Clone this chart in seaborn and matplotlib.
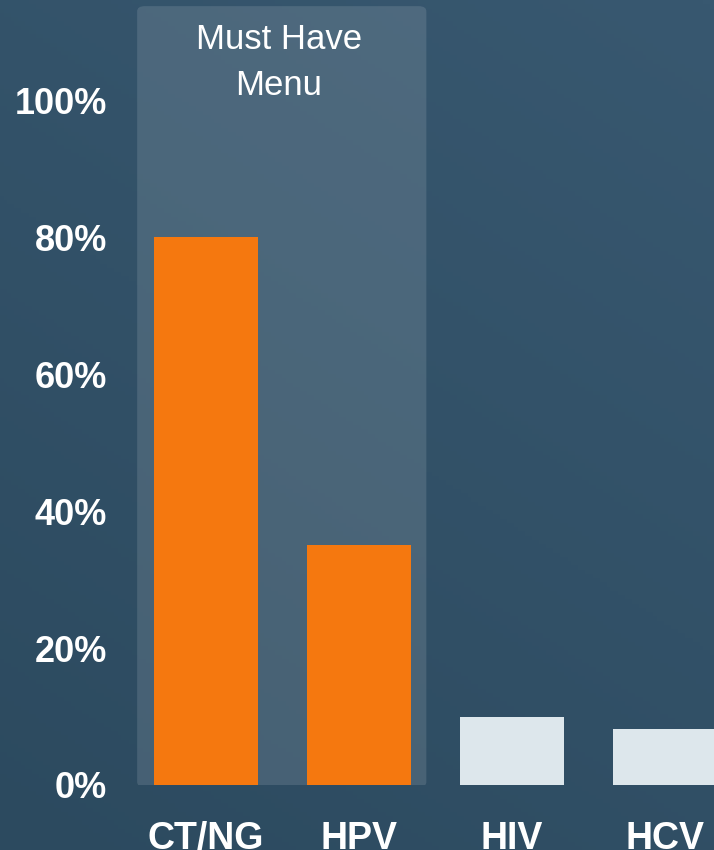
import numpy as np
import pandas as pd
import matplotlib
matplotlib.use('Agg')
import matplotlib.pyplot as plt
from matplotlib.patches import FancyBboxPatch
import seaborn as sns

# 데이터
categories = ['CT/NG', 'HPV', 'HIV', 'HCV']
values = [0.80, 0.35, 0.10, 0.082]
bar_colors = ['#f5780f', '#f5780f', '#dde7ec', '#dde7ec']
y_ticks = [0.0, 0.2, 0.4, 0.6, 0.8, 1.0]
y_tick_labels = ['0%', '20%', '40%', '60%', '80%', '100%']
highlight_label = 'Must Have\nMenu'

sns.set_style('white')
plt.rcParams['font.family'] = ['Liberation Sans', 'DejaVu Sans']

df = pd.DataFrame({'test': categories, 'share': values})

fig = plt.figure(figsize=(7.14, 8.5), dpi=100)

# 배경 그라데이션
bg = fig.add_axes([0, 0, 1, 1], zorder=0)
gx, gy = np.meshgrid(np.linspace(0, 1, 200), np.linspace(0, 1, 200))
grad = 0.65 * gy + 0.35 * gx
bg.imshow(grad, cmap=matplotlib.colors.LinearSegmentedColormap.from_list(
    'bg', ['#2c4a5f', '#385870']), origin='lower', aspect='auto', extent=[0, 1, 0, 1])
bg.axis('off')

ax = fig.add_axes([129.5 / 714, 65 / 850, (714 - 129.5) / 714, 785 / 850], zorder=1)
ax.patch.set_alpha(0)

# Must Have 영역
box = FancyBboxPatch((-0.45, -0.003), 1.89, 1.14,
                     boxstyle='round,pad=0,rounding_size=0.05',
                     mutation_aspect=0.15,
                     facecolor='white', alpha=0.12, edgecolor='none', zorder=0)
ax.add_patch(box)
ax.text(0.477, 1.055, highlight_label, ha='center', va='center',
        fontsize=25, color='white', linespacing=1.5, zorder=3)

sns.barplot(data=df, x='test', y='share', hue='test', palette=bar_colors,
            width=0.68, legend=False, saturation=1, linewidth=0, ax=ax, zorder=2)

ax.set_xlim(-0.5, 3.32)
ax.set_ylim(0, 1.146)
ax.set_yticks(y_ticks)
ax.set_yticklabels(y_tick_labels)
ax.tick_params(axis='y', length=0, pad=16, labelsize=26, labelcolor='white')
ax.tick_params(axis='x', length=0, pad=26, labelsize=27, labelcolor='white')
for lbl in ax.get_xticklabels() + ax.get_yticklabels():
    lbl.set_fontweight('bold')
ax.set_xlabel('')
ax.set_ylabel('')
sns.despine(ax=ax, left=True, bottom=True)

fig.savefig('out.png', dpi=100)
